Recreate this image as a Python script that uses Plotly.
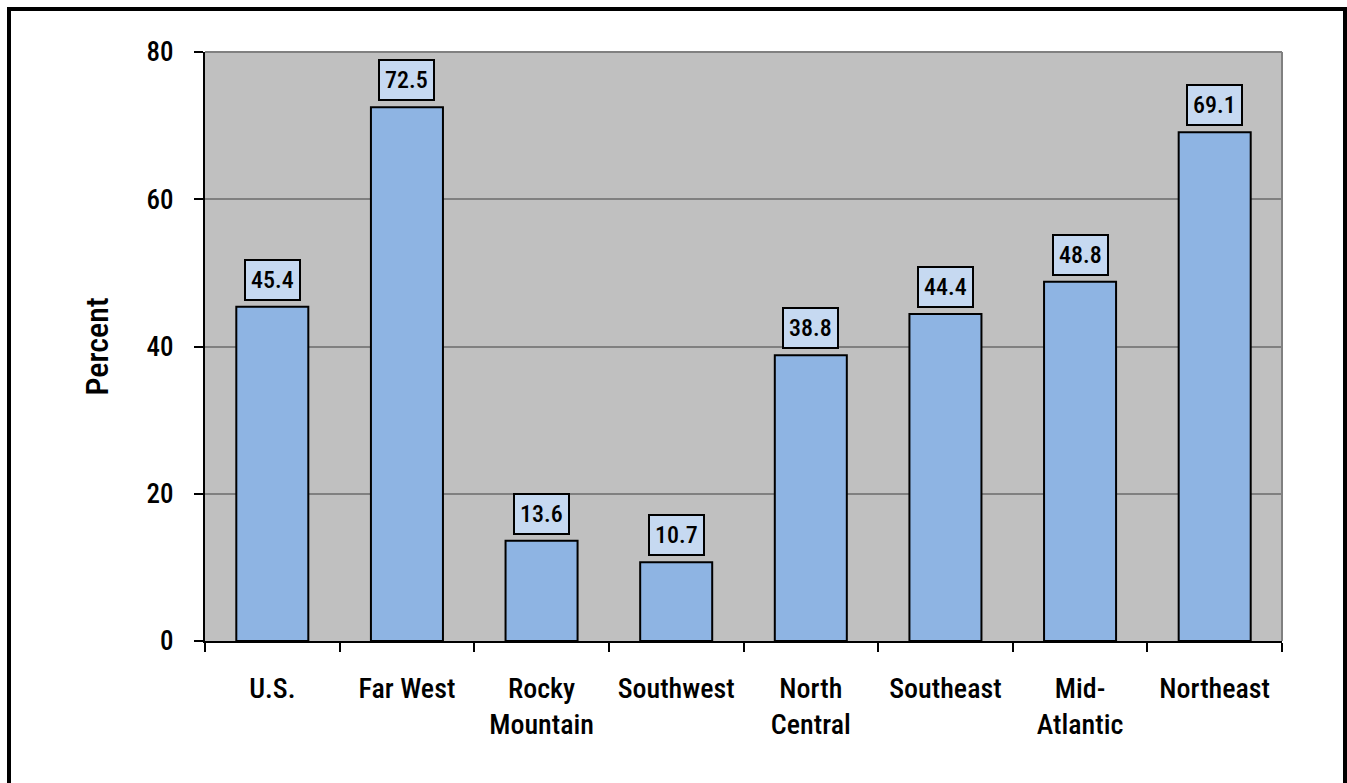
import plotly.graph_objects as go

categories = ["U.S.", "Far West", "Rocky<br>Mountain", "Southwest", "North<br>Central",
              "Southeast", "Mid-<br>Atlantic", "Northeast"]
values = [45.4, 72.5, 13.6, 10.7, 38.8, 44.4, 48.8, 69.1]
y_ticks = [0, 20, 40, 60, 80]

FONT = "Roboto Condensed, DejaVu Sans Condensed, Liberation Sans, sans-serif"
WEIGHT = 500

W, H = 1347, 783
ML, MR, MT, MB = 205, 65, 52, 142

fig = go.Figure()
fig.add_trace(go.Bar(
    x=categories, y=values,
    marker=dict(color="#8EB4E3", line=dict(color="black", width=2)),
    width=0.535,
))

for c, v in zip(categories, values):
    fig.add_annotation(
        x=c, y=v, text=f"{v:.1f}", showarrow=False,
        yanchor="bottom", yshift=6,
        font=dict(family=FONT, size=24, color="black", weight=WEIGHT),
        bgcolor="#C6D9F1", bordercolor="black", borderwidth=2, borderpad=5,
    )

pw = W - ML - MR
ph = H - MT - MB
def px_x(p):
    return (p - ML) / pw
def px_y(p):
    return (H - MB - p) / ph

# outer figure border
fig.add_shape(type="rect", xref="paper", yref="paper",
              x0=px_x(9), x1=px_x(1345), y0=px_y(795), y1=px_y(9),
              line=dict(color="black", width=4), layer="above")
# top/right plot border
fig.add_shape(type="line", xref="paper", yref="paper", x0=0, x1=1, y0=1, y1=1,
              line=dict(color="#808080", width=2))
fig.add_shape(type="line", xref="paper", yref="paper", x0=1, x1=1, y0=0, y1=1,
              line=dict(color="#808080", width=2))

fig.update_layout(
    width=W, height=H,
    margin=dict(l=ML, r=MR, t=MT, b=MB),
    paper_bgcolor="white", plot_bgcolor="#C0C0C0",
    showlegend=False,
    font=dict(family=FONT, size=28, color="black", weight=WEIGHT),
)
fig.update_xaxes(
    type="category", tickson="boundaries", ticks="outside", ticklen=9, tickwidth=2,
    tickcolor="black", showline=True, linecolor="black", linewidth=2,
    showgrid=False, ticklabelstandoff=21,
    tickfont=dict(family=FONT, size=28, color="black", weight=WEIGHT),
)
fig.update_yaxes(
    range=[0, 80], tickvals=y_ticks, ticks="outside", ticklen=9, tickwidth=2,
    tickcolor="black", showline=True, linecolor="black", linewidth=2,
    showgrid=True, gridcolor="#808080", gridwidth=2, zeroline=False,
    ticklabelstandoff=15,
    tickfont=dict(family=FONT, size=27, color="black", weight=WEIGHT),
    title=dict(text="Percent", font=dict(family=FONT, size=32, color="black", weight=WEIGHT), standoff=28),
)

fig.write_html("out.html", config={"displayModeBar": False},
               post_script="document.body.style.margin='0';")
